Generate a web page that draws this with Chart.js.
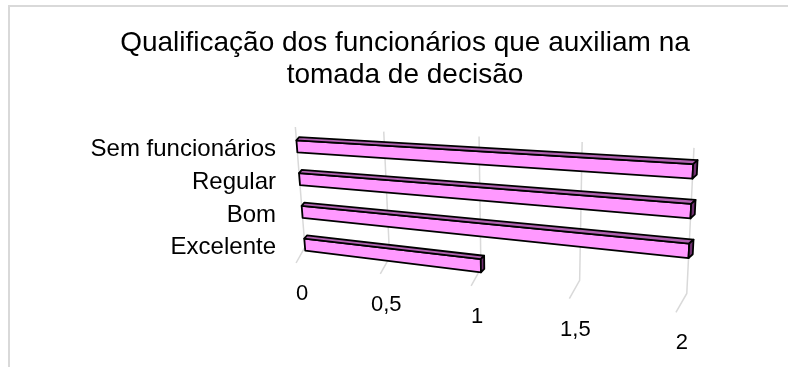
<!DOCTYPE html>
<html>
<head>
<meta charset="utf-8">
<script src="https://cdn.jsdelivr.net/npm/chart.js@4"></script>
<style>
  html, body { margin: 0; padding: 0; background: #fff; }
  #wrap { width: 788px; height: 367px; position: relative; }
</style>
</head>
<body>
<div id="wrap"><canvas id="chart"></canvas></div>
<script>
// chart data
const categories = ['Sem funcionários', 'Regular', 'Bom', 'Excelente'];
const values = [2, 2, 2, 1];
const xTicks = [0, 0.5, 1, 1.5, 2];
const xTickLabels = ['0', '0,5', '1', '1,5', '2'];
const titleLines = ['Qualificação dos funcionários que auxiliam na', 'tomada de decisão'];

// fake 3D perspective (Excel style), applied on top of the flat chart area
const PERSP = 1.17, SLOPE = 21.5, GROW = 0.213, KX1 = 0.08, KX2 = 0.06;
const DEPTH = 3.5;
const FONT = '"Liberation Sans", Arial, sans-serif';

function project(area, x, y) {
    const w = area.right - area.left;
    const u = (x - area.left) / w;
    const t = u / (PERSP - (PERSP - 1) * u);
    const dy = y - (area.top + 30);
    return {
        x: area.left + t * w + ((1 - t) * KX1 - t * KX2) * dy,
        y: y + t * (SLOPE + GROW * (y - area.top))
    };
}

function poly(ctx, pts, fill) {
    ctx.beginPath();
    ctx.moveTo(pts[0].x, pts[0].y);
    for (let i = 1; i < pts.length; i++) ctx.lineTo(pts[i].x, pts[i].y);
    ctx.closePath();
    ctx.fillStyle = fill;
    ctx.fill();
    ctx.stroke();
}

const perspectivePlugin = {
    id: 'perspective',
    beforeDraw(chart) {
        const ctx = chart.ctx;
        ctx.save();
        ctx.fillStyle = '#fff';
        ctx.fillRect(0, 0, chart.width, chart.height);
        ctx.strokeStyle = '#d9d9d9';
        ctx.lineWidth = 2;
        ctx.strokeRect(9, 6, chart.width + 20, chart.height + 20);
        ctx.restore();
    },
    beforeDatasetsDraw(chart) {
        const ctx = chart.ctx;
        const area = chart.chartArea;
        const xs = chart.scales.x;
        ctx.save();
        ctx.strokeStyle = '#d9d9d9';
        ctx.lineWidth = 1.5;
        xTicks.forEach((v, i) => {
            const px = xs.getPixelForValue(v);
            const top = project(area, px, area.top - 3);
            const back = project(area, px, area.bottom - 14);
            const front = project(area, px, area.bottom);
            ctx.beginPath();
            ctx.moveTo(top.x, top.y);
            ctx.lineTo(back.x, back.y);
            ctx.lineTo(front.x - 10, front.y + 2);
            ctx.stroke();

            ctx.fillStyle = '#000';
            ctx.font = '22px ' + FONT;
            ctx.textAlign = 'center';
            ctx.textBaseline = 'middle';
            ctx.fillText(xTickLabels[i], front.x - 4, front.y + 33);
        });
        ctx.restore();
    },
    afterDatasetsDraw(chart) {
        const ctx = chart.ctx;
        const area = chart.chartArea;
        const meta = chart.getDatasetMeta(0);
        ctx.save();
        ctx.strokeStyle = '#000';
        ctx.lineWidth = 1.8;
        ctx.lineJoin = 'round';
        meta.data.forEach(bar => {
            const { x, y, base, height } = bar.getProps(['x', 'y', 'base', 'height'], true);
            const yT = y - height / 2, yB = y + height / 2;
            const p = (a, b) => project(area, a, b);
            // front face
            poly(ctx, [p(base, yT), p(x, yT), p(x, yB), p(base, yB)], '#ff99ff');
            // top face
            poly(ctx, [p(base, yT), p(x, yT), p(x + DEPTH, yT - DEPTH), p(base + DEPTH, yT - DEPTH)], '#b060b0');
            // end face
            poly(ctx, [p(x, yT), p(x + DEPTH, yT - DEPTH), p(x + DEPTH, yB - DEPTH), p(x, yB)], '#703070');
        });
        ctx.restore();
    }
};

const ctx = document.getElementById('chart');
new Chart(ctx, {
    type: 'bar',
    data: {
        labels: categories,
        datasets: [{
            data: values,
            backgroundColor: 'rgba(0,0,0,0)',
            borderWidth: 0,
            barThickness: 12
        }]
    },
    options: {
        indexAxis: 'y',
        responsive: true,
        maintainAspectRatio: false,
        animation: false,
        layout: {
            padding: { left: 22, right: 0, top: 0, bottom: 106 }
        },
        plugins: {
            legend: { display: false },
            tooltip: { enabled: false },
            title: {
                display: true,
                text: titleLines,
                color: '#000',
                font: { family: FONT, size: 28, weight: 'normal', lineHeight: 1.15 },
                padding: { top: 27, bottom: 38.6 }
            }
        },
        scales: {
            x: {
                display: false,
                min: 0,
                max: 2,
                ticks: { stepSize: 0.5 }
            },
            y: {
                grid: { display: false, drawTicks: false },
                border: { display: false },
                ticks: {
                    color: '#000',
                    padding: 22,
                    labelOffset: 3,
                    font: { family: FONT, size: 24 }
                },
                afterFit(scale) {
                    scale.width = 276;
                }
            },
            // empty right-hand axis, only keeps room on the right like the original
            yRight: {
                type: 'category',
                position: 'right',
                grid: { display: false, drawTicks: false },
                border: { display: false },
                ticks: { display: false },
                afterFit(scale) {
                    scale.width = 96;
                }
            }
        }
    },
    plugins: [perspectivePlugin]
});
</script>
</body>
</html>
